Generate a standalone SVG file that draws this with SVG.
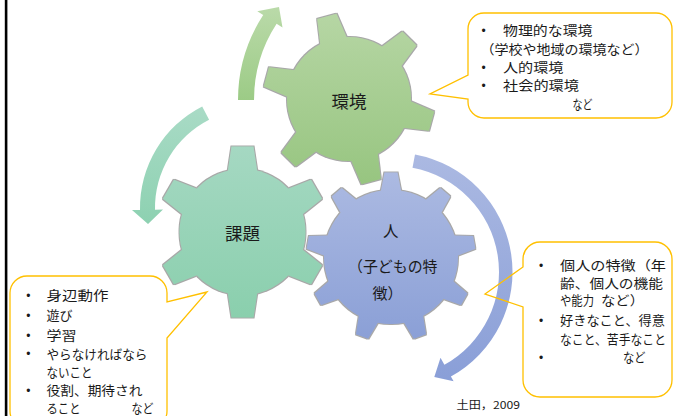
<svg xmlns="http://www.w3.org/2000/svg" width="673" height="416" viewBox="0 0 673 416">
<style>
.gl{font-family:"Noto Sans CJK JP","Noto Sans",sans-serif;fill:#1a1a1a}
.ct{font-family:"Noto Sans CJK JP","Noto Sans",sans-serif;font-size:13px;fill:#1a1a1a}
.bu{font-family:"Liberation Sans",Arial,sans-serif;font-size:12px;fill:#1a1a1a;text-anchor:middle}
.co{fill:none;stroke:#ffc000;stroke-width:1.3;stroke-linejoin:miter}
</style>
<defs>
<linearGradient id="gGreen" gradientUnits="userSpaceOnUse" x1="0" y1="13" x2="0" y2="185"><stop offset="0" stop-color="#b6d6a4"/><stop offset="1" stop-color="#97c580"/></linearGradient>
<linearGradient id="gTeal" gradientUnits="userSpaceOnUse" x1="0" y1="146" x2="0" y2="318"><stop offset="0" stop-color="#a5d8c2"/><stop offset="1" stop-color="#8acfad"/></linearGradient>
<linearGradient id="gBlue" gradientUnits="userSpaceOnUse" x1="0" y1="172" x2="0" y2="342"><stop offset="0" stop-color="#acbae2"/><stop offset="1" stop-color="#8a9fd6"/></linearGradient>
<linearGradient id="aGreen" gradientUnits="userSpaceOnUse" x1="0" y1="7" x2="0" y2="100"><stop offset="0" stop-color="#badaa9"/><stop offset="1" stop-color="#9ccb86"/></linearGradient>
<linearGradient id="aTeal" gradientUnits="userSpaceOnUse" x1="0" y1="106" x2="0" y2="224"><stop offset="0" stop-color="#a9dbc6"/><stop offset="1" stop-color="#8dd1b1"/></linearGradient>
<linearGradient id="aBlue" gradientUnits="userSpaceOnUse" x1="0" y1="154" x2="0" y2="385"><stop offset="0" stop-color="#abb9e2"/><stop offset="1" stop-color="#899ed7"/></linearGradient>
<filter id="edge" x="-5%" y="-5%" width="110%" height="110%">
<feMorphology in="SourceAlpha" operator="dilate" radius="0.8" result="d"/>
<feFlood flood-color="#8a8a8a" flood-opacity="0.75"/>
<feComposite in2="d" operator="in" result="o"/>
<feMerge><feMergeNode in="o"/><feMergeNode in="SourceGraphic"/></feMerge>
</filter>
<polygon id="t1" points="-10,-85.5 10,-85.5 14,-58 -14,-58"/>
<polygon id="t2" points="-11,-85.5 11,-85.5 15,-59 -15,-59"/>
<polygon id="t3" points="-6.5,-84.5 6.5,-84.5 10.5,-64 -10.5,-64"/>
<mask id="m1" maskUnits="userSpaceOnUse" x="0" y="0" width="673" height="416"><g fill="#fff">
<circle cx="349" cy="99" r="62"/>
<use href="#t1" transform="translate(349,99) rotate(105)"/>
<use href="#t1" transform="translate(349,99) rotate(165)"/>
<use href="#t1" transform="translate(349,99) rotate(225)"/>
<use href="#t1" transform="translate(349,99) rotate(285)"/>
<use href="#t1" transform="translate(349,99) rotate(345)"/>
<use href="#t1" transform="translate(349,99) rotate(45)"/>
</g></mask>
<mask id="m2" maskUnits="userSpaceOnUse" x="0" y="0" width="673" height="416"><g fill="#fff">
<circle cx="242.5" cy="232" r="63"/>
<use href="#t2" transform="translate(242.5,232) rotate(0)"/>
<use href="#t2" transform="translate(242.5,232) rotate(60)"/>
<use href="#t2" transform="translate(242.5,232) rotate(120)"/>
<use href="#t2" transform="translate(242.5,232) rotate(180)"/>
<use href="#t2" transform="translate(242.5,232) rotate(240)"/>
<use href="#t2" transform="translate(242.5,232) rotate(300)"/>
</g></mask>
<mask id="m3" maskUnits="userSpaceOnUse" x="0" y="0" width="673" height="416"><g fill="#fff">
<circle cx="391" cy="257" r="67"/>
<use href="#t3" transform="translate(391,257) rotate(0)"/>
<use href="#t3" transform="translate(391,257) rotate(40)"/>
<use href="#t3" transform="translate(391,257) rotate(80)"/>
<use href="#t3" transform="translate(391,257) rotate(120)"/>
<use href="#t3" transform="translate(391,257) rotate(160)"/>
<use href="#t3" transform="translate(391,257) rotate(200)"/>
<use href="#t3" transform="translate(391,257) rotate(240)"/>
<use href="#t3" transform="translate(391,257) rotate(280)"/>
<use href="#t3" transform="translate(391,257) rotate(320)"/>
</g></mask>
</defs>
<rect x="0" y="0" width="673" height="416" fill="#ffffff"/>
<rect x="4.8" y="0" width="2.6" height="416" fill="#000000"/>

<g id="connectors">
<path d="M238,100 A156,156 0 0 1 263.2,15 L257.3,11.2 L279,7 L282.5,27.6 L276.6,23.8 A140,140 0 0 0 254,100 Z" fill="url(#aGreen)"/>
<path d="M202.2,106.4 A114,114 0 0 0 140,210 L132,210.1 L148,224 L163,209.6 L155,209.7 A99,99 0 0 1 209.1,119.8 Z" fill="url(#aTeal)"/>
<path d="M415,154.5 A119.5,119.5 0 0 1 450.9,376.5 L453.6,381.3 L434.3,376.9 L440.5,357.7 L444.4,364.7 A106,106 0 0 0 412.5,167.8 Z" fill="url(#aBlue)"/>
</g>

<g id="gear-kankyo">
<g filter="url(#edge)"><rect x="255" y="5" width="190" height="190" fill="url(#gGreen)" mask="url(#m1)"/></g>
<text class="gl" x="349" y="108" font-size="17.5" text-anchor="middle">環境</text>
</g>

<g id="gear-kadai">
<g filter="url(#edge)"><rect x="148" y="138" width="190" height="190" fill="url(#gTeal)" mask="url(#m2)"/></g>
<text class="gl" x="242.5" y="239.6" font-size="17.5" text-anchor="middle">課題</text>
</g>

<g id="gear-hito">
<g filter="url(#edge)"><rect x="298" y="164" width="186" height="186" fill="url(#gBlue)" mask="url(#m3)"/></g>
<text class="gl" x="390.8" y="237" font-size="15.5" text-anchor="middle">人</text>
<text class="gl" x="348" y="272.3" font-size="15" textLength="89.5" lengthAdjust="spacingAndGlyphs">（子どもの特</text>
<text class="gl" x="372.5" y="299" font-size="15">徴）</text>
</g>

<g id="callout-kankyo">
<path class="co" d="M484,13 H656 A16,16 0 0 1 672,29 V102 A16,16 0 0 1 656,118 H484 A16,16 0 0 1 468,102 V99 L430,94 L468,75 V29 A16,16 0 0 1 484,13 Z"/>
<text class="bu" x="483.5" y="35">•</text>
<text class="ct" x="503" y="35.3" textLength="89.5" lengthAdjust="spacingAndGlyphs">物理的な環境</text>
<text class="ct" x="480.5" y="53.6" textLength="168" lengthAdjust="spacingAndGlyphs">（学校や地域の環境など）</text>
<text class="bu" x="483.5" y="71.7">•</text>
<text class="ct" x="503" y="72" textLength="60.5" lengthAdjust="spacingAndGlyphs">人的環境</text>
<text class="bu" x="483.5" y="90">•</text>
<text class="ct" x="503" y="90.3" textLength="76" lengthAdjust="spacingAndGlyphs">社会的環境</text>
<text class="ct" x="572.5" y="108.6" textLength="20" lengthAdjust="spacingAndGlyphs">など</text>
</g>

<g id="callout-hito">
<path class="co" d="M540,242 H655 A17,17 0 0 1 672,259 V380 A17,17 0 0 1 655,397 H540 A17,17 0 0 1 523,380 V307 L485,294 L523,267 V259 A17,17 0 0 1 540,242 Z"/>
<text class="bu" x="541" y="270">•</text>
<text class="ct" x="560" y="270.3" textLength="106" lengthAdjust="spacingAndGlyphs">個人の特徴（年</text>
<text class="ct" x="560" y="288" textLength="103" lengthAdjust="spacingAndGlyphs">齢、個人の機能</text>
<text class="ct" x="560" y="305.3"><tspan textLength="34" lengthAdjust="spacingAndGlyphs">や能力</tspan><tspan x="601" textLength="43" lengthAdjust="spacingAndGlyphs">など）</tspan></text>
<text class="bu" x="541" y="325">•</text>
<text class="ct" x="560" y="325.3" textLength="105" lengthAdjust="spacingAndGlyphs">好きなこと、得意</text>
<text class="ct" x="560" y="343.6" textLength="106" lengthAdjust="spacingAndGlyphs">なこと、苦手なこと</text>
<text class="bu" x="541" y="361.7">•</text>
<text class="ct" x="623" y="362" textLength="22.5" lengthAdjust="spacingAndGlyphs">など</text>
</g>

<g id="callout-kadai">
<path class="co" d="M27,276 H150 A17,17 0 0 1 167,293 V302 L207,292 L167,338 V411 A17,17 0 0 1 150,428 H27 A17,17 0 0 1 10,411 V293 A17,17 0 0 1 27,276 Z"/>
<text class="bu" x="28.3" y="300">•</text>
<text class="ct" x="46.5" y="300.3" textLength="62" lengthAdjust="spacingAndGlyphs">身辺動作</text>
<text class="bu" x="28.3" y="320">•</text>
<text class="ct" x="46.5" y="320.3" textLength="26" lengthAdjust="spacingAndGlyphs">遊び</text>
<text class="bu" x="28.3" y="340">•</text>
<text class="ct" x="46.5" y="340.3" textLength="30" lengthAdjust="spacingAndGlyphs">学習</text>
<text class="bu" x="28.3" y="358.3">•</text>
<text class="ct" x="46.5" y="358.6" textLength="101" lengthAdjust="spacingAndGlyphs">やらなければなら</text>
<text class="ct" x="46.5" y="377" textLength="46" lengthAdjust="spacingAndGlyphs">ないこと</text>
<text class="bu" x="28.3" y="394.7">•</text>
<text class="ct" x="46.5" y="395" textLength="96" lengthAdjust="spacingAndGlyphs">役割、期待され</text>
<text class="ct" x="46.5" y="412.8"><tspan textLength="34" lengthAdjust="spacingAndGlyphs">ること</tspan><tspan x="131.5" textLength="22" lengthAdjust="spacingAndGlyphs">など</tspan></text>
</g>

<text id="source" class="gl" x="456.5" y="408.5" font-size="11" textLength="63.5" lengthAdjust="spacingAndGlyphs">土田，2009</text>
</svg>
